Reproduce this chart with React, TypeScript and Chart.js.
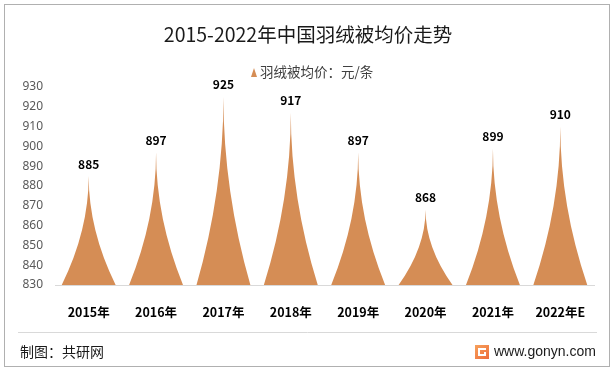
import React, { useEffect, useRef } from "react";
import { Chart, registerables } from "chart.js";

Chart.register(...registerables);

const categories = ["2015年", "2016年", "2017年", "2018年", "2019年", "2020年", "2021年", "2022年E"];
const prices = [885, 897, 925, 917, 897, 868, 899, 910];
const yTicks = [830, 840, 850, 860, 870, 880, 890, 900, 910, 920, 930];
const titleText = "2015-2022年中国羽绒被均价走势";
const legendText = "羽绒被均价：元/条";
const footerLeft = "制图：共研网";
const footerRight = "www.gonyn.com";

const SPIKE = "#D58D55";
const CJK = "'Noto Sans CJK SC', 'Noto Sans', sans-serif";

const decorPlugin = {
  id: "decor",
  beforeDraw(chart: any) {
    const ctx = chart.ctx;
    ctx.save();
    ctx.fillStyle = "#ffffff";
    ctx.fillRect(0, 0, chart.width, chart.height);
    ctx.strokeStyle = "#b0b0b0";
    ctx.lineWidth = 1;
    ctx.strokeRect(4.5, 4.5, 605, 362);
    // title
    ctx.fillStyle = "#1a1a1a";
    ctx.font = `19.5px ${CJK}`;
    ctx.textAlign = "center";
    ctx.textBaseline = "middle";
    ctx.fillText(titleText, 308, 35);
    // legend
    ctx.font = `13.5px ${CJK}`;
    ctx.fillStyle = "#404040";
    ctx.textAlign = "left";
    ctx.fillText(legendText, 260, 72);
    ctx.fillStyle = SPIKE;
    ctx.beginPath();
    ctx.moveTo(251, 77);
    ctx.lineTo(254, 68);
    ctx.lineTo(257, 77);
    ctx.closePath();
    ctx.fill();
    // footer separator
    ctx.strokeStyle = "#d9d9d9";
    ctx.beginPath();
    ctx.moveTo(18, 332.5);
    ctx.lineTo(597, 332.5);
    ctx.stroke();
    ctx.fillStyle = "#1a1a1a";
    ctx.font = `14px ${CJK}`;
    ctx.textAlign = "left";
    ctx.fillText(footerLeft, 20, 352);
    ctx.font = `14px 'Liberation Sans', sans-serif`;
    ctx.fillText(footerRight, 494, 352);
    // logo
    const g = ctx.createLinearGradient(475, 344, 489, 360);
    g.addColorStop(0, "#F7A35C");
    g.addColorStop(1, "#EE6A3A");
    ctx.fillStyle = g;
    ctx.fillRect(475, 345, 14, 14);
    ctx.fillStyle = "#ffffff";
    ctx.fillRect(478, 348, 8, 2);
    ctx.fillRect(478, 348, 2, 8);
    ctx.fillRect(478, 354, 8, 2);
    ctx.fillRect(484, 352, 2, 4);
    ctx.restore();
  },
  afterDatasetsDraw(chart: any) {
    const ctx = chart.ctx;
    const meta = chart.getDatasetMeta(0);
    const yScale = chart.scales.y;
    const base = yScale.getPixelForValue(yScale.min);
    ctx.save();
    meta.data.forEach((el: any, i: number) => {
      const x = el.x;
      const width = el.width;
      const y = yScale.getPixelForValue(prices[i]);
      const mid = (base + y) / 2;
      ctx.fillStyle = SPIKE;
      ctx.beginPath();
      ctx.moveTo(x - width / 2, base);
      ctx.quadraticCurveTo(x, mid, x, y);
      ctx.quadraticCurveTo(x, mid, x + width / 2, base);
      ctx.closePath();
      ctx.fill();
      ctx.fillStyle = "#000000";
      ctx.font = `bold 12px ${CJK}`;
      ctx.textAlign = "center";
      ctx.textBaseline = "bottom";
      ctx.fillText(String(prices[i]), x, y - 6);
    });
    ctx.restore();
  },
};

export default function App() {
  const ref = useRef<HTMLCanvasElement>(null);
  useEffect(() => {
    document.body.style.margin = "0";
    const chart = new Chart(ref.current as HTMLCanvasElement, {
      type: "bar",
      data: {
        labels: categories,
        datasets: [
          {
            label: legendText,
            data: prices,
            backgroundColor: "rgba(0,0,0,0)",
            borderWidth: 0,
            categoryPercentage: 1,
            barPercentage: 0.8,
          },
        ],
      },
      options: {
        responsive: false,
        animation: false,
        layout: { padding: { left: 0, right: 22, top: 87, bottom: 0 } },
        plugins: { legend: { display: false }, title: { display: false }, tooltip: { enabled: false } },
        scales: {
          x: {
            grid: { display: false },
            border: { color: "#d9d9d9" },
            ticks: { color: "#000000", font: { family: CJK, size: 12.5, weight: "bold" }, padding: 12 },
            afterFit(scale: any) {
              scale.height = 88;
            },
          },
          y: {
            min: 830,
            max: 930,
            grid: { display: false, drawTicks: false },
            border: { display: false },
            afterBuildTicks(scale: any) {
              scale.ticks = yTicks.map((v) => ({ value: v }));
            },
            ticks: { color: "#595959", font: { family: "'Noto Sans', sans-serif", size: 12 }, padding: 12 },
            afterFit(scale: any) {
              scale.width = 55;
            },
          },
        },
      },
      plugins: [decorPlugin],
    });
    return () => chart.destroy();
  }, []);
  return (
    <div style={{ position: "absolute", left: 0, top: 0 }}>
      <canvas ref={ref} width={616} height={373} style={{ width: 616, height: 373, display: "block" }} />
    </div>
  );
}
